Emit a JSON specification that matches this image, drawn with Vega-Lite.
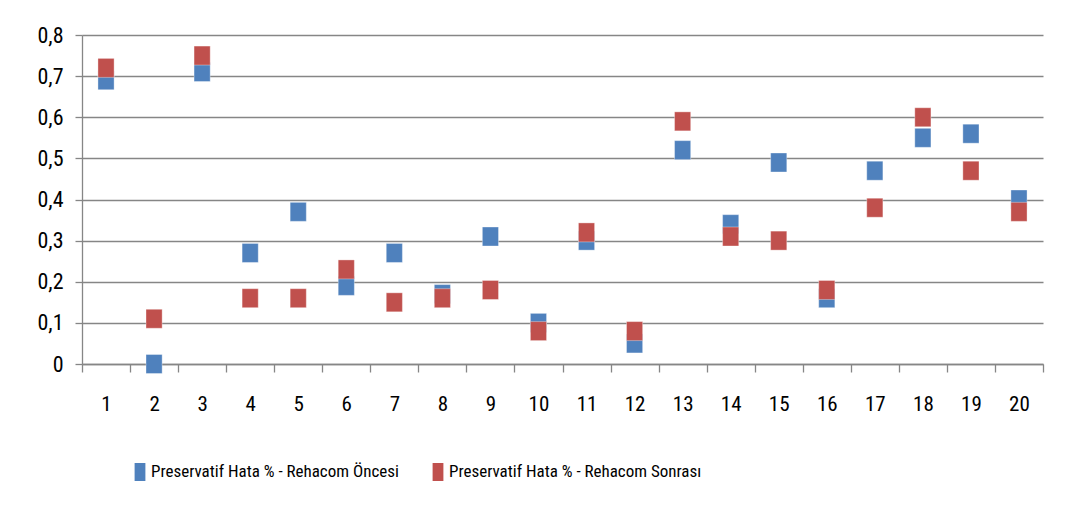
{
  "$schema": "https://vega.github.io/schema/vega-lite/v6.json",
  "width": 961,
  "height": 329,
  "autosize": {"type": "none"},
  "padding": {"left": 82, "top": 35, "right": 23, "bottom": 144},
  "background": "white",
  "config": {
    "view": {"stroke": null},
    "font": "Roboto Condensed",
    "axis": {"labelFont": "Roboto Condensed", "labelColor": "#000000", "domainColor": "#868686", "tickColor": "#868686", "gridColor": "#868686", "domainWidth": 1.3, "tickWidth": 1.3, "gridWidth": 1.3}
  },
  "data": {
    "values": [
      {"n": 1, "series": "Preservatif Hata % - Rehacom Öncesi", "v": 0.69},
      {"n": 2, "series": "Preservatif Hata % - Rehacom Öncesi", "v": 0.0},
      {"n": 3, "series": "Preservatif Hata % - Rehacom Öncesi", "v": 0.71},
      {"n": 4, "series": "Preservatif Hata % - Rehacom Öncesi", "v": 0.27},
      {"n": 5, "series": "Preservatif Hata % - Rehacom Öncesi", "v": 0.37},
      {"n": 6, "series": "Preservatif Hata % - Rehacom Öncesi", "v": 0.19},
      {"n": 7, "series": "Preservatif Hata % - Rehacom Öncesi", "v": 0.27},
      {"n": 8, "series": "Preservatif Hata % - Rehacom Öncesi", "v": 0.17},
      {"n": 9, "series": "Preservatif Hata % - Rehacom Öncesi", "v": 0.31},
      {"n": 10, "series": "Preservatif Hata % - Rehacom Öncesi", "v": 0.10},
      {"n": 11, "series": "Preservatif Hata % - Rehacom Öncesi", "v": 0.30},
      {"n": 12, "series": "Preservatif Hata % - Rehacom Öncesi", "v": 0.05},
      {"n": 13, "series": "Preservatif Hata % - Rehacom Öncesi", "v": 0.52},
      {"n": 14, "series": "Preservatif Hata % - Rehacom Öncesi", "v": 0.34},
      {"n": 15, "series": "Preservatif Hata % - Rehacom Öncesi", "v": 0.49},
      {"n": 16, "series": "Preservatif Hata % - Rehacom Öncesi", "v": 0.16},
      {"n": 17, "series": "Preservatif Hata % - Rehacom Öncesi", "v": 0.47},
      {"n": 18, "series": "Preservatif Hata % - Rehacom Öncesi", "v": 0.55},
      {"n": 19, "series": "Preservatif Hata % - Rehacom Öncesi", "v": 0.56},
      {"n": 20, "series": "Preservatif Hata % - Rehacom Öncesi", "v": 0.40},
      {"n": 1, "series": "Preservatif Hata % - Rehacom Sonrası", "v": 0.72},
      {"n": 2, "series": "Preservatif Hata % - Rehacom Sonrası", "v": 0.11},
      {"n": 3, "series": "Preservatif Hata % - Rehacom Sonrası", "v": 0.75},
      {"n": 4, "series": "Preservatif Hata % - Rehacom Sonrası", "v": 0.16},
      {"n": 5, "series": "Preservatif Hata % - Rehacom Sonrası", "v": 0.16},
      {"n": 6, "series": "Preservatif Hata % - Rehacom Sonrası", "v": 0.23},
      {"n": 7, "series": "Preservatif Hata % - Rehacom Sonrası", "v": 0.15},
      {"n": 8, "series": "Preservatif Hata % - Rehacom Sonrası", "v": 0.16},
      {"n": 9, "series": "Preservatif Hata % - Rehacom Sonrası", "v": 0.18},
      {"n": 10, "series": "Preservatif Hata % - Rehacom Sonrası", "v": 0.08},
      {"n": 11, "series": "Preservatif Hata % - Rehacom Sonrası", "v": 0.32},
      {"n": 12, "series": "Preservatif Hata % - Rehacom Sonrası", "v": 0.08},
      {"n": 13, "series": "Preservatif Hata % - Rehacom Sonrası", "v": 0.59},
      {"n": 14, "series": "Preservatif Hata % - Rehacom Sonrası", "v": 0.31},
      {"n": 15, "series": "Preservatif Hata % - Rehacom Sonrası", "v": 0.30},
      {"n": 16, "series": "Preservatif Hata % - Rehacom Sonrası", "v": 0.18},
      {"n": 17, "series": "Preservatif Hata % - Rehacom Sonrası", "v": 0.38},
      {"n": 18, "series": "Preservatif Hata % - Rehacom Sonrası", "v": 0.60},
      {"n": 19, "series": "Preservatif Hata % - Rehacom Sonrası", "v": 0.47},
      {"n": 20, "series": "Preservatif Hata % - Rehacom Sonrası", "v": 0.37}
    ]
  },
  "mark": {"type": "point", "filled": true, "opacity": 1, "shape": "M-0.85,-1V1H0.85V-1Z", "size": 361, "stroke": "#ffffff", "strokeOpacity": 0.35, "strokeWidth": 1},
  "encoding": {
    "x": {
      "field": "n", "type": "ordinal",
      "scale": {"paddingInner": 0, "paddingOuter": 0},
      "axis": {"title": null, "labelAngle": 0, "tickBand": "extent", "tickSize": 8, "labelPadding": 21, "labelFontSize": 21, "grid": false}
    },
    "y": {
      "field": "v", "type": "quantitative",
      "scale": {"domain": [0, 0.8], "nice": false, "zero": true},
      "axis": {"title": null, "values": [0, 0.1, 0.2, 0.3, 0.4, 0.5, 0.6, 0.7, 0.8], "labelExpr": "datum.value == 0 ? '0' : replace(format(datum.value, '.1f'), '.', ',')", "tickSize": 7, "labelPadding": 12, "labelFontSize": 22, "grid": true}
    },
    "color": {
      "field": "series", "type": "nominal",
      "scale": {"domain": ["Preservatif Hata % - Rehacom Öncesi", "Preservatif Hata % - Rehacom Sonrası"], "range": ["#4F81BD", "#C0504D"]},
      "legend": {"title": null, "orient": "none", "legendX": 49, "legendY": 428, "direction": "horizontal", "symbolType": "M-0.6,-1V1H0.6V-1Z", "symbolSize": 324, "symbolStrokeWidth": 0, "labelFontSize": 17, "labelFont": "Roboto Condensed", "labelLimit": 0, "labelOffset": 2, "columnPadding": 30, "labelColor": "#000000"}
    }
  }
}
